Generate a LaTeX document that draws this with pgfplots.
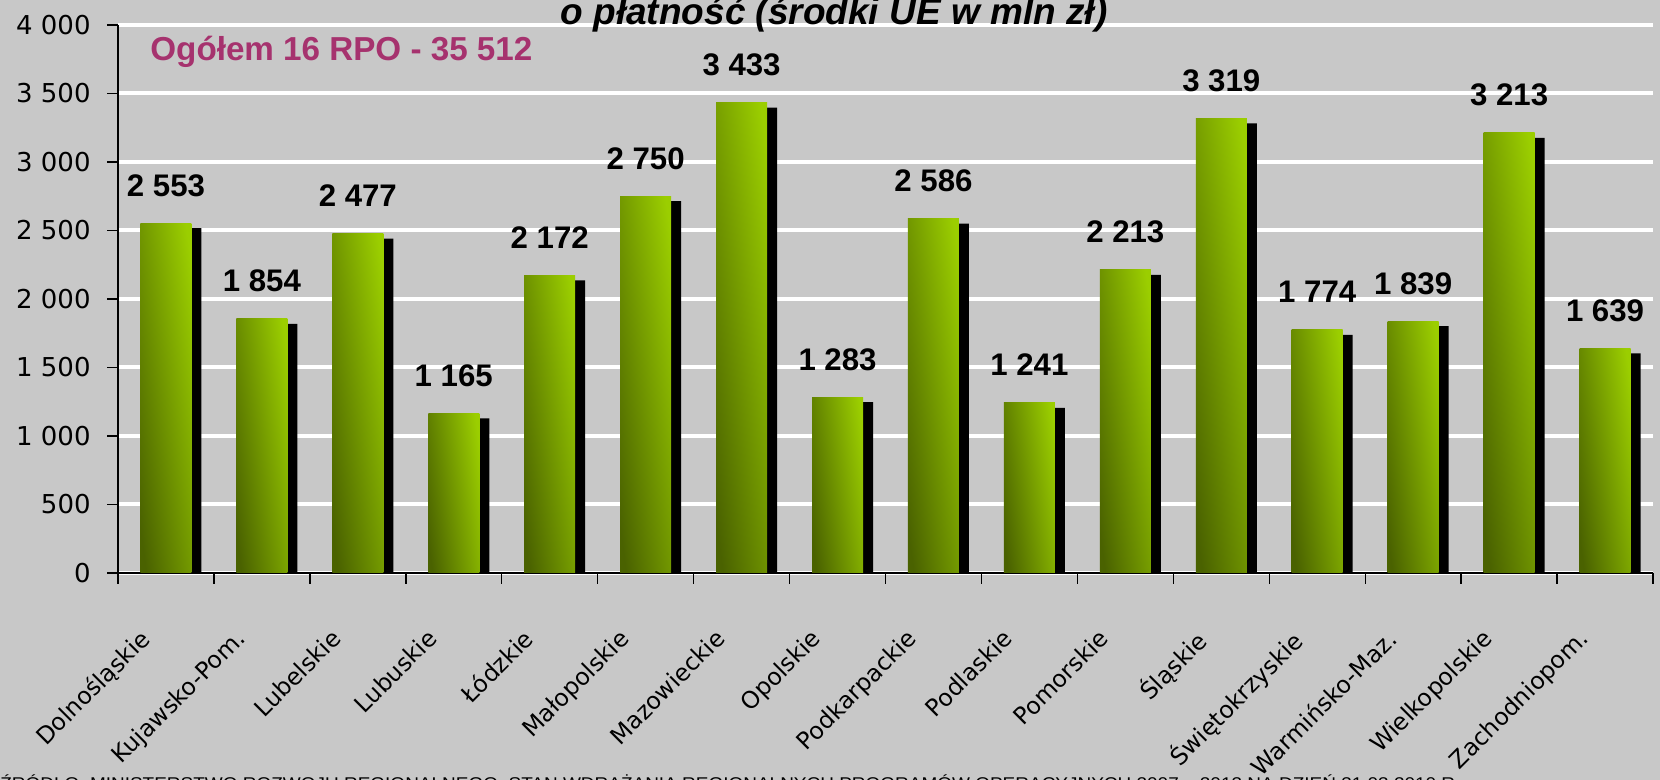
\documentclass[border=0pt]{standalone}
\usepackage{pgfplots}
\pgfplotsset{compat=1.18}
\usepackage{pgfplotstable}
\usepackage{fontspec}
\setmainfont{Liberation Sans}
\newfontfamily\dejavu{DejaVu Sans}
\usepackage{graphicx}
\definecolor{bg}{RGB}{200,200,200}
\definecolor{lime}{RGB}{155,206,0}
\definecolor{olivedark}{RGB}{74,98,0}
\definecolor{ogol}{RGB}{166,50,110}

\pgfplotstableread{
x v
0 2553
1 1854
2 2477
3 1165
4 2172
5 2750
6 3433
7 1283
8 2586
9 1241
10 2213
11 3319
12 1774
13 1839
14 3213
15 1639
}\data

\begin{document}
\begin{tikzpicture}
\fill[bg] (-59pt,-103.5pt) rectangle (771pt,286.5pt);
\useasboundingbox (-59pt,-103.5pt) rectangle (771pt,286.5pt);
\begin{axis}[
  at={(0,0)}, anchor=south west,
  scale only axis, width=767.5pt, height=274pt,
  xmin=-0.5, xmax=15.5, ymin=0, ymax=4000,
  axis lines*=left,
  axis line style={line width=0.75pt, black},
  tick align=outside,
  major tick length=5.5pt,
  tick style={black, line width=0.7pt},
  xtick={-0.5,0.5,1.5,2.5,3.5,4.5,5.5,6.5,7.5,8.5,9.5,10.5,11.5,12.5,13.5,14.5,15.5},
  x tick label as interval,
  xticklabels={Dolnośląskie,Kujawsko-Pom.,Lubelskie,Lubuskie,Łódzkie,Małopolskie,Mazowieckie,Opolskie,Podkarpackie,Podlaskie,Pomorskie,Śląskie,Świętokrzyskie,Warmińsko-Maz.,Wielkopolskie,Zachodniopom.},
  xticklabel style={font=\dejavu\fontsize{11.8}{13}\selectfont, xshift=-14pt, yshift=-21.5pt, rotate=45, anchor=north east, inner sep=0pt},
  ytick={0,500,1000,1500,2000,2500,3000,3500,4000},
  yticklabels={0,500,1 000,1 500,2 000,2 500,3 000,3 500,4 000},
  yticklabel style={font=\dejavu\fontsize{13}{15}\selectfont, anchor=east, inner sep=0pt, xshift=-8pt},
  ymajorgrids,
  major grid style={white, line width=2pt},
  axis background/.style={fill=bg},
]
\addplot[ybar, bar width=25.5pt, bar shift=5pt, fill=black, draw=none, yshift=-2.5pt]
  table[x=x, y=v]{\data};
\pgfplotsinvokeforeach{0,...,15}{
\addplot[ybar, bar width=25.5pt, bar shift=0pt, draw=none,
  top color=lime, bottom color=olivedark, shading angle=-82,
  restrict x to domain=#1:#1,
  nodes near coords,
  nodes near coords style={font=\bfseries\fontsize{15.6}{17}\selectfont, text=black,
    /pgf/number format/1000 sep={~}, /pgf/number format/assume math mode=true,
    anchor=base, yshift=13.5pt, inner sep=0pt}]
  table[x=x, y=v]{\data};
}
\end{axis}
\node[anchor=base, inner sep=0pt, font=\bfseries\itshape\fontsize{18.5}{20}\selectfont] at (358pt,274pt) {o płatność (środki UE w mln zł)};
\node[anchor=base west, inner sep=0pt, text=ogol, font=\bfseries\fontsize{16.6}{18}\selectfont] at (16pt,256pt) {Ogółem 16 RPO - 35 512};
\node[anchor=base west, inner sep=0pt, font=\fontsize{8.5}{10}\selectfont] at (-59pt,-108.5pt) {\resizebox{730pt}{\height}{ŹRÓDŁO: MINISTERSTWO ROZWOJU REGIONALNEGO, STAN WDRAŻANIA REGIONALNYCH PROGRAMÓW OPERACYJNYCH 2007 -- 2013 NA DZIEŃ 31.03.2010 R.}};
\end{tikzpicture}
\end{document}
